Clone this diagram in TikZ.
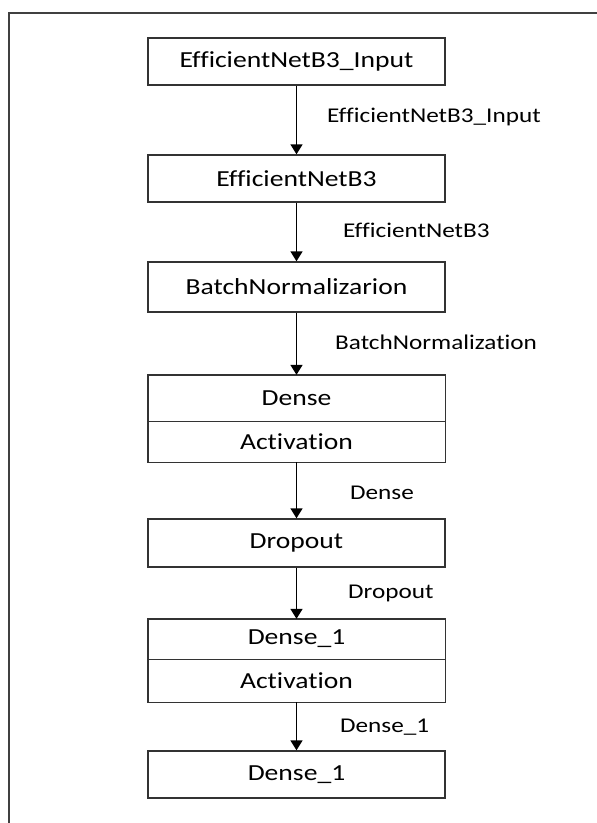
\documentclass[tikz,border=0pt]{standalone}
\usepackage{fontspec}
\setmainfont{Carlito}[FakeStretch=1.2, Ligatures=NoCommon]
\usetikzlibrary{arrows.meta}
\begin{document}
\begin{tikzpicture}[x=1pt,y=-1pt,
  box/.style={draw=black!80, line width=1.4pt, minimum width=297pt, inner sep=0pt, font=\fontsize{23}{27}\selectfont, text=black},
  part/.style={minimum width=297pt, inner sep=0pt, font=\fontsize{23}{27}\selectfont, text=black},
  frame/.style={draw=black!80, line width=1.4pt},
  divider/.style={draw=black!80, line width=1pt},
  lbl/.style={anchor=west, inner sep=0pt, font=\fontsize{21}{25}\selectfont, text=black},
  conn/.style={line width=1.6pt, black, -{Triangle[width=12pt,length=10pt]}}]
\useasboundingbox (0,0) rectangle (597,823);
\draw[line width=1.5pt, black!75] (9,823) -- (9,13) -- (597,13);

\node[box, minimum height=47pt] (b1) at (296.5,61.5) {EfficientNetB3\_Input};
\node[box, minimum height=47pt] (b2) at (296.5,178.5) {EfficientNetB3};
\node[box, minimum height=50pt] (b3) at (296.5,287) {BatchNormalizarion};
\node[part, minimum height=46pt] (b4a) at (296.5,398) {Dense};
\node[part, minimum height=41pt] (b4b) at (296.5,441.5) {Activation};
\draw[frame] (b4a.north west) rectangle (b4b.south east);
\draw[divider] (b4a.south west) -- (b4a.south east);
\node[box, minimum height=48pt] (b5) at (296.5,543) {Dropout};
\node[part, minimum height=40pt] (b6a) at (296.5,639) {Dense\_1};
\node[part, minimum height=43pt] (b6b) at (296.5,680.5) {Activation};
\draw[frame] (b6a.north west) rectangle (b6b.south east);
\draw[divider] (b6a.south west) -- (b6a.south east);
\node[box, minimum height=47pt] (b7) at (296.5,774.5) {Dense\_1};

\draw[conn] (b1.south) -- (b2.north);
\draw[conn] (b2.south) -- (b3.north);
\draw[conn] (b3.south) -- (b4a.north);
\draw[conn] (b4b.south) -- (b5.north);
\draw[conn] (b5.south) -- (b6a.north);
\draw[conn] (b6b.south) -- (b7.north);

\node[lbl] (l1) at (327,117) {EfficientNetB3\_Input};
\node[lbl] (l2) at (343,230) {EfficientNetB3};
\node[lbl] (l3) at (335,342) {BatchNormalization};
\node[lbl] (l4) at (350,493) {Dense};
\node[lbl] (l5) at (348,593) {Dropout};
\node[lbl] (l6) at (340,727) {Dense\_1};
\end{tikzpicture}
\end{document}
